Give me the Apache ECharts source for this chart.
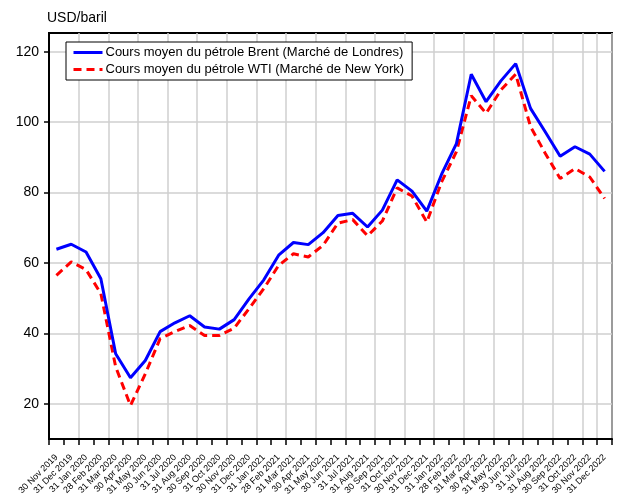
<!DOCTYPE html>
<html>
<head>
<meta charset="utf-8">
<script src="https://cdn.jsdelivr.net/npm/echarts@6/dist/echarts.min.js"></script>
<style>
html,body{margin:0;padding:0;background:#fff;}
#chart{width:617px;height:495px;}
</style>
</head>
<body>
<div id="chart"></div>
<script>
const categories = ["30 Nov 2019","31 Dec 2019","31 Jan 2020","28 Feb 2020","31 Mar 2020","30 Apr 2020","31 May 2020","30 Jun 2020","31 Jul 2020","31 Aug 2020","30 Sep 2020","31 Oct 2020","30 Nov 2020","31 Dec 2020","31 Jan 2021","28 Feb 2021","31 Mar 2021","30 Apr 2021","31 May 2021","30 Jun 2021","31 Jul 2021","31 Aug 2021","30 Sep 2021","31 Oct 2021","30 Nov 2021","31 Dec 2021","31 Jan 2022","28 Feb 2022","31 Mar 2022","30 Apr 2022","31 May 2022","30 Jun 2022","31 Jul 2022","31 Aug 2022","30 Sep 2022","31 Oct 2022","30 Nov 2022","31 Dec 2022"];
const brent = [63.9,65.3,63.1,55.5,34.2,27.4,32.3,40.5,43.0,45.0,41.8,41.2,43.9,49.8,55.2,62.2,65.8,65.2,68.6,73.5,74.1,70.2,75.0,83.6,80.4,74.7,85.2,93.9,113.6,105.8,111.7,116.6,103.9,97.2,90.3,93.0,90.9,86.0];
const wti = [56.5,60.3,58.1,51.3,30.5,19.5,28.5,38.5,40.5,42.2,39.4,39.4,41.5,47.0,52.7,59.3,62.6,61.7,65.0,71.3,72.3,67.7,71.9,81.3,79.0,71.6,83.0,91.6,107.5,102.5,109.1,113.6,98.7,91.1,84.0,86.8,84.4,78.3];
const yTicks = [20,40,60,80,100,120];
const seriesNames = ["Cours moyen du pétrole Brent (Marché de Londres)","Cours moyen du pétrole WTI (Marché de New York)"];

const chart = echarts.init(document.getElementById('chart'), null, {renderer:'canvas'});
const font = "'Liberation Sans', Arial, sans-serif";
chart.setOption({
  animation:false,
  backgroundColor:'#fff',
  textStyle:{fontFamily:font},
  title:{text:'USD/baril',left:47,top:11,textStyle:{fontSize:14,fontWeight:'normal',color:'#000',fontFamily:font},padding:0},
  legend:{
    orient:'vertical',left:66,top:42,
    padding:[4,8,4,6],itemGap:4,itemWidth:29,itemHeight:14,
    borderColor:'#000',borderWidth:1,backgroundColor:'#fff',
    itemStyle:{color:'rgba(0,0,0,0)',borderColor:'rgba(0,0,0,0)',borderWidth:0,opacity:0},
    lineStyle:{width:3},
    textStyle:{fontSize:13,color:'#000',fontFamily:font,padding:[0,0,0,-2]},
    data:seriesNames
  },
  grid:{left:49,top:33,right:5,bottom:56,show:true,borderColor:'#000',borderWidth:2,backgroundColor:'transparent',outerBoundsMode:'none',containLabel:false},
  xAxis:{
    type:'category',data:categories,boundaryGap:true,
    axisLine:{lineStyle:{color:'#000',width:2}},
    axisTick:{show:true,interval:0,length:6,lineStyle:{color:'#000',width:1.5}},
    axisLabel:{interval:0,rotate:45,fontSize:9,color:'#000',margin:17,fontFamily:font},
    splitLine:{show:true,interval:1,lineStyle:{color:'#cfcfcf',width:1.5}}
  },
  yAxis:{
    type:'value',min:10,max:125.3,
    axisLine:{show:true,lineStyle:{color:'#000',width:2}},
    axisTick:{show:true,length:5,customValues:yTicks,lineStyle:{color:'#000',width:1.5}},
    axisLabel:{customValues:yTicks,fontSize:14,color:'#000',margin:10,fontFamily:font},
    splitLine:{show:true,lineStyle:{color:'#cfcfcf',width:1.5}}
  },
  series:[
    {name:seriesNames[0],type:'line',data:brent,symbol:'none',lineStyle:{color:'#0000ff',width:3},itemStyle:{color:'#0000ff'},z:3},
    {name:seriesNames[1],type:'line',data:wti,symbol:'none',lineStyle:{color:'#ff0000',width:3,type:[8,5]},itemStyle:{color:'#ff0000'},z:2}
  ]
});
</script>
</body>
</html>
